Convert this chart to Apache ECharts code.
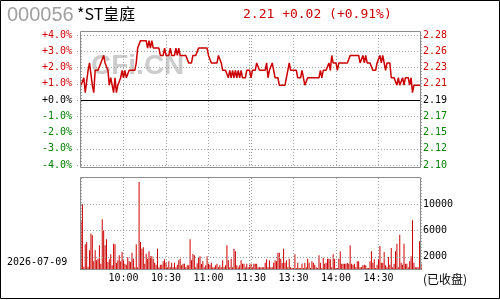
<!DOCTYPE html>
<html>
<head>
<meta charset="utf-8">
<script src="https://cdn.jsdelivr.net/npm/echarts@6/dist/echarts.min.js"></script>
<style>
  html, body { margin: 0; padding: 0; background: #fff; }
  #chart { width: 500px; height: 300px; }
</style>
</head>
<body>
<div id="chart"></div>
<script>
// 000056 *ST皇庭 intraday, minute index 0..240 (09:30 -> 15:00)
const prevClose = 2.19
const pctLabels = ['-4.0%', '-3.0%', '-2.0%', '-1.0%', '+0.0%', '+1.0%', '+2.0%', '+3.0%', '+4.0%']
const priceLabels = ['2.10', '2.12', '2.15', '2.17', '2.19', '2.21', '2.23', '2.26', '2.28']
const volLabels = { 2000: '2000', 6000: '6000', 10000: '10000' }
const timeLabels = { 30: '10:00', 60: '10:30', 90: '11:00', 120: '11:30', 150: '13:30', 180: '14:00', 210: '14:30' }

const prices = [
  2.21, 2.21, 2.22, 2.20, 2.20, 2.23, 2.24, 2.24, 2.21, 2.20, 2.23, 2.23, 2.23, 2.23, 2.24, 2.24, 2.25, 2.24, 2.24, 2.23,
  2.21, 2.22, 2.21, 2.20, 2.22, 2.20, 2.21, 2.21, 2.22, 2.23, 2.22, 2.23, 2.22, 2.22, 2.23, 2.23, 2.23, 2.23, 2.23, 2.24,
  2.26, 2.26, 2.27, 2.27, 2.27, 2.27, 2.27, 2.26, 2.27, 2.26, 2.27, 2.26, 2.26, 2.26, 2.26, 2.26, 2.25, 2.25, 2.25, 2.26,
  2.25, 2.25, 2.25, 2.26, 2.25, 2.25, 2.25, 2.26, 2.25, 2.26, 2.25, 2.25, 2.25, 2.25, 2.25, 2.25, 2.24, 2.24, 2.24, 2.25,
  2.25, 2.25, 2.25, 2.26, 2.26, 2.26, 2.26, 2.26, 2.26, 2.26, 2.25, 2.25, 2.24, 2.24, 2.24, 2.24, 2.24, 2.25, 2.25, 2.24,
  2.23, 2.23, 2.23, 2.23, 2.22, 2.23, 2.22, 2.23, 2.22, 2.23, 2.22, 2.23, 2.22, 2.23, 2.22, 2.22, 2.22, 2.23, 2.23, 2.23,
  2.22, 2.23, 2.23, 2.23, 2.24, 2.24, 2.23, 2.23, 2.23, 2.23, 2.23, 2.24, 2.22, 2.23, 2.23, 2.24, 2.23, 2.22, 2.22, 2.22,
  2.21, 2.21, 2.21, 2.21, 2.21, 2.22, 2.23, 2.24, 2.23, 2.23, 2.23, 2.23, 2.23, 2.22, 2.22, 2.22, 2.23, 2.23, 2.21, 2.21,
  2.22, 2.22, 2.22, 2.22, 2.22, 2.22, 2.22, 2.22, 2.22, 2.23, 2.22, 2.23, 2.23, 2.23, 2.23, 2.24, 2.23, 2.25, 2.24, 2.24,
  2.24, 2.23, 2.24, 2.24, 2.24, 2.24, 2.24, 2.24, 2.24, 2.24, 2.25, 2.25, 2.25, 2.25, 2.25, 2.25, 2.25, 2.24, 2.24, 2.25,
  2.24, 2.25, 2.24, 2.24, 2.24, 2.24, 2.23, 2.23, 2.23, 2.24, 2.24, 2.25, 2.24, 2.25, 2.24, 2.23, 2.24, 2.24, 2.24, 2.22,
  2.22, 2.22, 2.22, 2.21, 2.22, 2.21, 2.21, 2.22, 2.21, 2.22, 2.22, 2.22, 2.21, 2.22, 2.20, 2.21, 2.21, 2.21, 2.21, 2.21,
  2.21
]

const volumes = [
  7400, 10000, 500, 3900, 4260, 500, 3000, 5530, 5280, 1320, 3000, 1470, 1730, 3760, 960, 7715, 6040, 3760, 4670, 1220,
  1620, 2390, 710, 4010, 3900, 1070, 1470, 2230, 1320, 2740, 1470, 960, 810, 1930, 1320, 1220, 2640, 1730, 400, 3900,
  400, 13400, 4260, 3250, 3450, 960, 2490, 1730, 2840, 2080, 2080, 1730, 1120, 810, 3250, 400, 810, 810, 1320, 1620,
  1120, 400, 1320, 400, 1120, 400, 1120, 400, 810, 1470, 1730, 710, 960, 960, 400, 710, 710, 4670, 1470, 2440,
  2230, 400, 1020, 1880, 2080, 910, 1320, 400, 710, 2080, 960, 810, 1120, 400, 400, 710, 960, 400, 710, 400,
  1470, 400, 710, 3760, 1470, 400, 1730, 400, 3250, 2840, 710, 400, 710, 1470, 960, 960, 400, 960, 400, 810,
  960, 400, 960, 960, 960, 400, 400, 400, 400, 400, 1120, 1620, 400, 1470, 400, 400, 1120, 1470, 1320, 2640,
  2640, 1730, 1070, 3250, 1120, 1470, 400, 1730, 400, 300, 300, 2390, 300, 1120, 300, 300, 960, 300, 1120, 400,
  1730, 1120, 300, 1320, 1120, 810, 400, 300, 2230, 1120, 300, 1880, 960, 1120, 1730, 1730, 1620, 400, 2390, 1730,
  300, 300, 1730, 2840, 960, 960, 960, 960, 1070, 960, 3760, 960, 810, 960, 400, 1320, 1320, 400, 400, 710,
  810, 710, 300, 300, 1320, 2840, 1120, 1620, 300, 810, 1620, 3650, 1120, 1120, 2740, 710, 400, 1980, 810, 3350,
  400, 960, 2840, 4010, 400, 5380, 1120, 810, 4010, 960, 960, 400, 1320, 2080, 7560, 1120, 400, 400, 400, 4370,
  1000
]

const RED = '#cc0000'
const GREEN = '#008000'
const GRID_GREY = '#a0a0a0'
const labelFont = 'DejaVu Sans Mono'

const pctColor = (v) => (v > 0 ? RED : v < 0 ? GREEN : '#000')
const idx = (v) => Math.round(v) + 4

const lineData = prices.map((p, i) => [i, (p / prevClose - 1) * 100])
const barData = volumes.map((v, i) => [i, v])

const chart = echarts.init(document.getElementById('chart'), null, { renderer: 'canvas' })

const option = {
  animation: false,
  backgroundColor: '#fff',
  grid: [
    { left: 81, right: 79, top: 35, height: 130 },
    { left: 81, right: 79, top: 178, height: 92 },
  ],
  xAxis: [
    {
      gridIndex: 0, type: 'value', min: 0, max: 240, interval: 30,
      axisLine: { show: false }, axisTick: { show: false }, axisLabel: { show: false },
      splitLine: { show: true, lineStyle: { color: GRID_GREY, type: [1, 2] } },
    },
    {
      gridIndex: 1, type: 'value', min: 0, max: 240, interval: 30,
      axisLine: { show: false }, axisTick: { show: false },
      axisLabel: {
        margin: 3, color: '#000', fontFamily: labelFont, fontSize: 10,
        formatter: (v) => timeLabels[v] || '',
      },
      splitLine: { show: true, lineStyle: { color: GRID_GREY, type: [1, 2] } },
    },
  ],
  yAxis: [
    {
      gridIndex: 0, type: 'value', min: -4, max: 4, interval: 1, position: 'left',
      axisLine: { show: false },
      axisTick: { show: true, length: 5, lineStyle: { color: GRID_GREY, type: [1, 2] } },
      axisLabel: {
        margin: 9, fontFamily: labelFont, fontSize: 10,
        formatter: (v) => pctLabels[idx(v)],
        color: (v) => pctColor(Number(v)),
      },
      splitLine: { show: true, lineStyle: { color: GRID_GREY, type: [1, 2] } },
    },
    {
      gridIndex: 0, type: 'value', min: -4, max: 4, interval: 1, position: 'right',
      axisLine: { show: false }, axisTick: { show: false },
      axisLabel: {
        margin: 2, fontFamily: labelFont, fontSize: 10,
        formatter: (v) => priceLabels[idx(v)],
        color: (v) => pctColor(Number(v)),
      },
      splitLine: { show: false },
    },
    {
      gridIndex: 1, type: 'value', min: 0, max: 14000, interval: 2000, position: 'right',
      axisLine: { show: false }, axisTick: { show: false },
      axisLabel: {
        margin: 2, color: '#000', fontFamily: labelFont, fontSize: 10,
        formatter: (v) => volLabels[v] || '',
      },
      splitLine: { show: false },
    },
  ],
  graphic: [
    { type: 'rect', z: 100, silent: true, shape: { x: 0.5, y: 0.5, width: 499, height: 298 }, style: { fill: 'none', stroke: '#000', lineWidth: 1 } },
    { type: 'rect', z: 100, silent: true, shape: { x: 80.5, y: 31.5, width: 340, height: 136 }, style: { fill: 'none', stroke: '#8c8c8c', lineWidth: 1 } },
    { type: 'rect', z: 100, silent: true, shape: { x: 80.5, y: 177.5, width: 340, height: 92 }, style: { fill: 'none', stroke: '#8c8c8c', lineWidth: 1 } },
    { type: 'text', z: 0, silent: true, left: 91, top: 52, style: { text: 'CFi.CN', fill: '#cccccc', font: 'bold 28px "Liberation Sans"' } },
    { type: 'text', z: 100, left: 7, top: 5, style: { text: '000056', fill: '#a0a0a0', font: '20px "Liberation Sans"' } },
    { type: 'text', z: 100, left: 77, top: 6, style: { text: '*ST皇庭', fill: '#000', font: '16px "Noto Sans CJK SC"' } },
    { type: 'text', z: 100, left: 243, top: 8, style: { text: '2.21 +0.02 (+0.91%)', fill: RED, font: '13px "DejaVu Sans Mono"' } },
    { type: 'text', z: 100, left: 7, top: 257, style: { text: '2026-07-09', fill: '#000', font: '10px "DejaVu Sans Mono"' } },
    { type: 'text', z: 100, left: 423, top: 273, style: { text: '(已收盘)', fill: '#000', font: '12px "Noto Sans CJK SC"' } },
  ],
  series: [
    {
      name: 'price', type: 'line', xAxisIndex: 0, yAxisIndex: 0,
      data: lineData, showSymbol: false, symbol: 'none', z: 5,
      lineStyle: { color: RED, width: 1.5 },
      markLine: {
        silent: true, symbol: 'none', label: { show: false },
        data: [
          { yAxis: 0, lineStyle: { color: '#000', width: 1, type: 'solid' } },
          { xAxis: 119, lineStyle: { color: GRID_GREY, width: 1, type: [1, 2] } },
        ],
      },
    },
    {
      name: 'volume', type: 'bar', xAxisIndex: 1, yAxisIndex: 2,
      data: barData, barWidth: 1, itemStyle: { color: RED },
      markLine: {
        silent: true, symbol: 'none', label: { show: false },
        lineStyle: { color: GRID_GREY, width: 1, type: [1, 2] },
        data: [{ yAxis: 2000 }, { yAxis: 6000 }, { yAxis: 10000 }, { xAxis: 119 }],
      },
    },
  ],
}
chart.setOption(option)
</script>
</body>
</html>
